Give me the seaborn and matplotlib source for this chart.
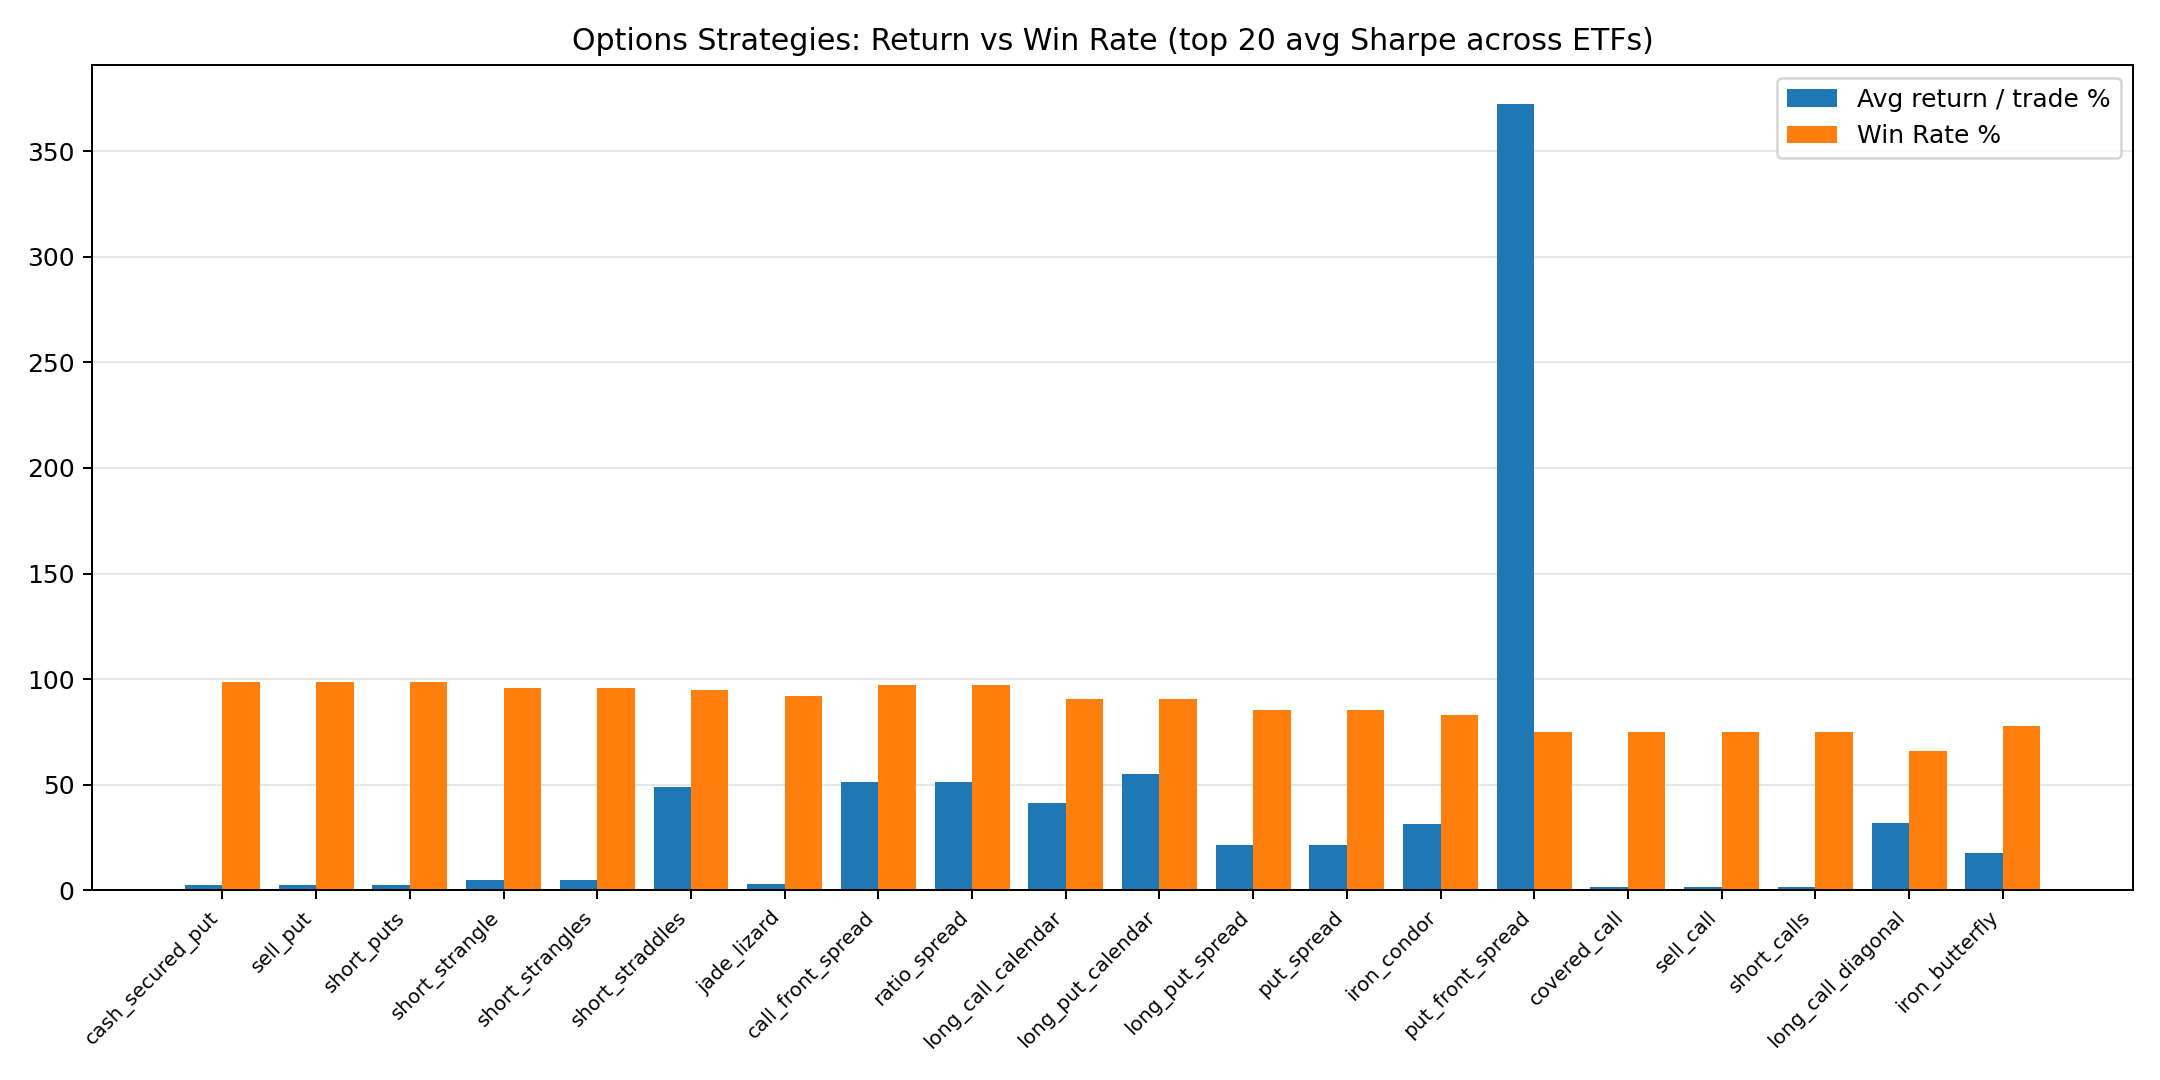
import pandas as pd
import matplotlib
matplotlib.use("Agg")
import matplotlib.pyplot as plt
import seaborn as sns

strategies = [
    "cash_secured_put", "sell_put", "short_puts", "short_strangle", "short_strangles",
    "short_straddles", "jade_lizard", "call_front_spread", "ratio_spread", "long_call_calendar",
    "long_put_calendar", "long_put_spread", "put_spread", "iron_condor", "put_front_spread",
    "covered_call", "sell_call", "short_calls", "long_call_diagonal", "iron_butterfly",
]
avg_return = [2.5, 2.5, 2.5, 4.9, 4.9, 48.7, 3.0, 51.5, 51.5, 41.1,
              55.3, 21.6, 21.6, 31.5, 372.2, 1.6, 1.6, 1.6, 32.0, 17.8]
win_rate = [98.6, 98.6, 98.6, 95.7, 95.7, 94.8, 91.9, 97.2, 97.2, 90.5,
            90.5, 85.3, 85.3, 82.9, 74.8, 74.8, 74.8, 74.8, 65.8, 77.7]

df = pd.DataFrame({
    "strategy": strategies * 2,
    "value": avg_return + win_rate,
    "metric": ["Avg return / trade %"] * len(strategies) + ["Win Rate %"] * len(strategies),
})

fig, ax = plt.subplots(figsize=(12, 6), dpi=180)
sns.barplot(data=df, x="strategy", y="value", hue="metric",
            palette=["#1f77b4", "#ff7f0e"], saturation=1, linewidth=0,
            width=0.8, ax=ax)

ax.set_xlim(-1.39, 20.39)
ax.set_yticks(range(0, 351, 50))
ax.set_xlabel("")
ax.set_ylabel("")
ax.set_title("Options Strategies: Return vs Win Rate (top 20 avg Sharpe across ETFs)", fontsize=12)
plt.setp(ax.get_xticklabels(), rotation=45, ha="right", fontsize=8)
ax.grid(axis="y", alpha=0.3)
ax.set_axisbelow(True)
ax.legend(title=None, loc="upper right")

plt.tight_layout()
plt.savefig("out.png", dpi=180)
plt.close()
